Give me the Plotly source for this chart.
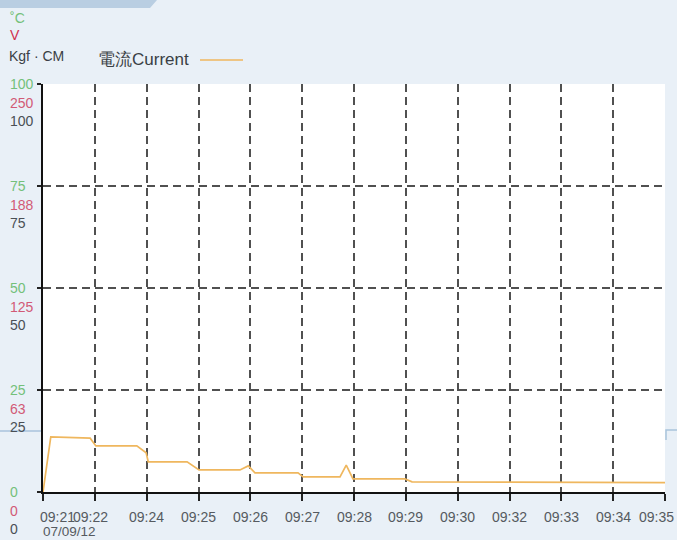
import plotly.graph_objects as go

# time slots on the x axis (evenly spaced in the original chart)
tick_labels = ["09:21", "09:22", "09:24", "09:25", "09:26", "09:27", "09:28",
               "09:29", "09:30", "09:32", "09:33", "09:34", "09:35"]
date_label = "07/09/12"

# current trace, x in tick-slot units, y on the 0-100 scale
current_x = [0.0, 0.15, 0.91, 1.02, 1.81, 1.99, 2.03, 2.78, 3.01, 3.80, 3.96,
             4.09, 4.92, 5.02, 5.73, 5.85, 5.98, 6.98, 7.12, 12.0]
current_y = [0.0, 13.5, 13.2, 11.3, 11.3, 9.6, 7.4, 7.4, 5.4, 5.4, 6.4,
             4.7, 4.7, 3.7, 3.7, 6.6, 3.2, 3.2, 2.5, 2.3]

# three stacked scales on the left
grid_vals = [0, 25, 50, 75, 100]
temp_labels = ["0", "25", "50", "75", "100"]     # degC
volt_labels = ["0", "63", "125", "188", "250"]   # V
torque_labels = ["0", "25", "50", "75", "100"]   # Kgf.CM

GREEN = "#74c07a"
PINK = "#d25a76"
GREY = "#4a4f55"
ORANGE = "#efb75e"
BG = "#e9f0f7"
FONT = "Liberation Sans, Arial, sans-serif"

# plot area in pixels: x 43..665, y 84..492
L, R, T, B = 43, 12, 84, 48
W, H = 677, 540
PW, PH = W - L - R, H - T - B


def px(x):
    return (x - L) / PW


def py(y):
    return (H - B - y) / PH


fig = go.Figure()

fig.add_trace(go.Scatter(
    x=current_x, y=current_y, mode="lines",
    line=dict(color=ORANGE, width=1.7),
    name="電流Current", showlegend=False, hoverinfo="skip",
))

annotations = []

# y labels, three colours stacked under each grid line
for v, a, b, c in zip(grid_vals, temp_labels, volt_labels, torque_labels):
    for text, col, shift in [(a, GREEN, 0), (b, PINK, -18.5), (c, GREY, -37)]:
        annotations.append(dict(
            x=px(8), xref="paper", y=v, yref="y", text=text, showarrow=False,
            xanchor="left", yanchor="middle", yshift=shift,
            font=dict(size=14, color=col, family=FONT),
        ))

# x labels
for i, lab in enumerate(tick_labels):
    shift = 0
    if i == 0:
        shift = 14
    elif i == 1:
        shift = -4
    elif i == len(tick_labels) - 1:
        shift = -9
    annotations.append(dict(
        x=i, xref="x", y=py(517), yref="paper", text=lab, showarrow=False,
        xanchor="center", yanchor="middle", xshift=shift,
        font=dict(size=14, color="#555a60", family=FONT),
    ))
annotations.append(dict(
    x=px(41), xref="paper", y=py(531), yref="paper", text=date_label,
    showarrow=False, xanchor="left", yanchor="middle",
    font=dict(size=13.5, color="#555a60", family=FONT),
))

# unit header and legend
annotations += [
    dict(x=px(8), xref="paper", y=py(18), yref="paper", text="˚C",
         showarrow=False, xanchor="left", yanchor="middle",
         font=dict(size=14, color=GREEN, family=FONT)),
    dict(x=px(8), xref="paper", y=py(35), yref="paper", text="V",
         showarrow=False, xanchor="left", yanchor="middle",
         font=dict(size=14, color="#d0304f", family=FONT)),
    dict(x=px(7), xref="paper", y=py(56), yref="paper", text="Kgf · CM",
         showarrow=False, xanchor="left", yanchor="middle",
         font=dict(size=14, color="#3a3f45", family=FONT)),
    dict(x=px(96), xref="paper", y=py(60), yref="paper", text="電流Current",
         showarrow=False, xanchor="left", yanchor="middle",
         font=dict(size=17, color="#3a3f45", family=FONT)),
]

shapes = [
    # legend swatch
    dict(type="line", xref="paper", yref="paper", x0=px(200), x1=px(243),
         y0=py(60), y1=py(60), line=dict(color=ORANGE, width=1.7)),
    # top-left tab of the panel
    dict(type="path", xref="paper", yref="paper", layer="below",
         path=f"M {px(0)},{py(0)} L {px(157)},{py(0)} L {px(150)},{py(8)} L {px(0)},{py(8)} Z",
         fillcolor="#b9cee2", line=dict(width=0)),
    # faint panel edges behind the chart
    dict(type="line", xref="paper", yref="paper", layer="below",
         x0=px(0), x1=px(43), y0=py(431), y1=py(431),
         line=dict(color="#a9c3dc", width=1.5)),
    dict(type="path", xref="paper", yref="paper", layer="below",
         path=f"M {px(666)},{py(440)} L {px(666)},{py(430)} L {px(677)},{py(430)}",
         line=dict(color="#a9c3dc", width=1.5)),
]

fig.update_layout(
    width=W, height=H,
    margin=dict(l=L, r=R, t=T, b=B),
    paper_bgcolor=BG,
    plot_bgcolor="white",
    showlegend=False,
    annotations=annotations,
    shapes=shapes,
    font=dict(family=FONT),
)

fig.update_xaxes(
    range=[0, 12], tickvals=list(range(len(tick_labels))), showticklabels=False,
    showgrid=True, griddash="8px,5px", gridcolor="#505050", gridwidth=1.5,
    showline=True, linecolor="#111", linewidth=2,
    ticks="outside", ticklen=7, tickwidth=2, tickcolor="#222",
    zeroline=False, fixedrange=True,
)
fig.update_yaxes(
    range=[0, 100], tickvals=grid_vals, showticklabels=False,
    showgrid=True, griddash="8px,5px", gridcolor="#505050", gridwidth=1.5,
    showline=True, linecolor="#111", linewidth=2,
    ticks="outside", ticklen=4, tickwidth=2, tickcolor="#222",
    zeroline=False, fixedrange=True,
)

# drop the page margin so the figure sits at the window corner
fig.write_html(
    "out.html",
    config={"displayModeBar": False},
    post_script=f"document.body.style.margin='0';document.body.style.background='{BG}';",
)
